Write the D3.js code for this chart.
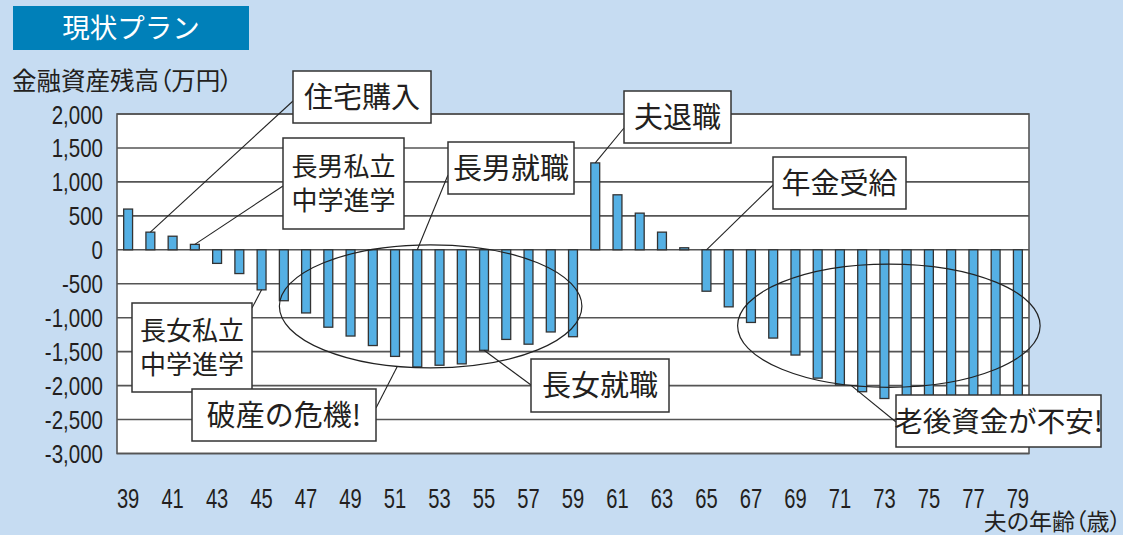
<!DOCTYPE html>
<html>
<head>
<meta charset="utf-8">
<script src="https://cdn.jsdelivr.net/npm/d3@7"></script>
<style>
  body { margin: 0; background: #c6dcf2; }
  .cjk { font-family: "Noto Sans CJK JP", "Noto Sans", sans-serif; font-feature-settings: "palt"; fill: #231f20; }
  .num { font-family: "Liberation Sans", Arial, sans-serif; fill: #231f20; }
</style>
</head>
<body>
<div id="theChart"></div>
<script>
// ages of the husband (x categories)
const ages = [39, 40, 41, 42, 43, 44, 45, 46, 47, 48, 49, 50, 51, 52, 53, 54, 55, 56, 57, 58, 59,
  60, 61, 62, 63, 64, 65, 66, 67, 68, 69, 70, 71, 72, 73, 74, 75, 76, 77, 78, 79]
// financial assets balance (10k yen)
const balance = [600, 260, 200, 80, -200, -350, -590, -750, -930, -1140, -1270, -1410, -1570, -1725, -1700, -1680, -1480, -1320, -1390, -1210, -1280,
  1280, 810, 540, 260, 30, -610, -840, -1070, -1300, -1550, -1890, -1990, -2090, -2190, -2260, -2320, -2380, -2440, -2500, -2560]
const yTicks = [2000, 1500, 1000, 500, 0, -500, -1000, -1500, -2000, -2500, -3000]
const yTickLabels = ["2,000", "1,500", "1,000", "500", "0", "-500", "-1,000", "-1,500", "-2,000", "-2,500", "-3,000"]
const xTicks = [39, 41, 43, 45, 47, 49, 51, 53, 55, 57, 59, 61, 63, 65, 67, 69, 71, 73, 75, 77, 79]

const w = 1123
const h = 535
const plot = { left: 117, right: 1029, top: 114, bottom: 453.5 }

const svg = d3.select("#theChart")
  .append("svg")
  .attr("width", w)
  .attr("height", h)

svg.append("rect").attr("width", w).attr("height", h).attr("fill", "#c6dcf2")

// title tab
svg.append("rect")
  .attr("x", 13).attr("y", 6).attr("width", 236).attr("height", 44)
  .attr("fill", "#0080b9")
svg.append("text")
  .attr("class", "cjk")
  .attr("x", 131).attr("y", 38)
  .attr("text-anchor", "middle")
  .attr("font-size", 27.5)
  .style("fill", "#fff")
  .style("font-feature-settings", "normal")
  .text("現状プラン")

svg.append("text")
  .attr("class", "cjk")
  .attr("x", 12).attr("y", 90)
  .attr("font-size", 24.5)
  .text("金融資産残高（万円）")

svg.append("text")
  .attr("class", "cjk")
  .attr("x", 1121).attr("y", 530)
  .attr("text-anchor", "end")
  .attr("font-size", 23)
  .text("夫の年齢（歳）")

const x = d3.scaleBand()
  .domain(ages)
  .range([plot.left, plot.right])
  .paddingInner(0.6)
  .paddingOuter(0.3)

const y = d3.scaleLinear()
  .domain([-3000, 2000])
  .range([plot.bottom, plot.top])

// continuous age scale for annotations
const xAge = d3.scaleLinear()
  .domain([ages[0], ages[ages.length - 1]])
  .range([x(ages[0]) + x.bandwidth() / 2, x(ages[ages.length - 1]) + x.bandwidth() / 2])

// plot background
svg.append("rect")
  .attr("x", plot.left).attr("y", plot.top)
  .attr("width", plot.right - plot.left).attr("height", plot.bottom - plot.top)
  .attr("fill", "#fff")

// grid
svg.append("g")
  .selectAll("line")
  .data(yTicks)
  .enter()
  .append("line")
  .attr("x1", plot.left).attr("x2", plot.right)
  .attr("y1", d => y(d)).attr("y2", d => y(d))
  .attr("stroke", "#555")
  .attr("stroke-width", 1.6)

svg.append("rect")
  .attr("x", plot.left).attr("y", plot.top)
  .attr("width", plot.right - plot.left).attr("height", plot.bottom - plot.top)
  .attr("fill", "none")
  .attr("stroke", "#555")
  .attr("stroke-width", 1.6)

// y axis labels
const yAxis = d3.axisLeft(y)
  .tickValues(yTicks)
  .tickSize(0)
  .tickPadding(0)
  .tickFormat((d, i) => yTickLabels[i])

const yg = svg.append("g")
  .attr("transform", "translate(103,0)")
  .call(yAxis)
yg.select(".domain").remove()
yg.selectAll("text")
  .attr("class", "num")
  .attr("font-size", 25)
  .attr("dy", "0.36em")
  .attr("transform", "scale(0.82,1)")

// x axis labels
const xAxis = d3.axisBottom(x)
  .tickValues(xTicks)
  .tickSize(0)
  .tickPadding(0)

const xg = svg.append("g")
  .attr("transform", "translate(0,488)")
  .call(xAxis)
xg.select(".domain").remove()
xg.selectAll("text")
  .attr("class", "num")
  .attr("font-size", 28)
  .attr("dy", "0.71em")
  .attr("x", 0)
  .attr("transform", "scale(0.72,1)")

// bars
svg.append("g")
  .selectAll("rect")
  .data(ages)
  .enter()
  .append("rect")
  .attr("x", d => x(d))
  .attr("width", x.bandwidth())
  .attr("y", (d, i) => y(Math.max(0, balance[i])))
  .attr("height", (d, i) => Math.abs(y(balance[i]) - y(0)))
  .attr("fill", "#55b0e4")
  .attr("stroke", "#333")
  .attr("stroke-width", 1.3)

// ellipses around the problem periods (age range, value range)
const ellipses = [
  { a0: 45.8, a1: 59.4, v0: -1740, v1: 74 },
  { a0: 66.4, a1: 80.0, v0: -2025, v1: -211 },
]
const ell = ellipses.map(e => ({
  cx: (xAge(e.a0) + xAge(e.a1)) / 2,
  cy: (y(e.v0) + y(e.v1)) / 2,
  rx: (xAge(e.a1) - xAge(e.a0)) / 2,
  ry: (y(e.v0) - y(e.v1)) / 2,
}))
svg.append("g")
  .selectAll("ellipse")
  .data(ell)
  .enter()
  .append("ellipse")
  .attr("cx", d => d.cx).attr("cy", d => d.cy)
  .attr("rx", d => d.rx).attr("ry", d => d.ry)
  .attr("fill", "none")
  .attr("stroke", "#222")
  .attr("stroke-width", 1.2)

function target(t) {
  if (t.ellipse !== undefined) {
    const e = ell[t.ellipse]
    const px = xAge(t.age)
    const dx = (px - e.cx) / e.rx
    return [px, e.cy + e.ry * Math.sqrt(1 - dx * dx)]
  }
  const i = ages.indexOf(t.age)
  const px = x(t.age) + x.bandwidth() / 2
  return [px, t.base ? y(0) : y(balance[i])]
}

// callouts
const notes = [
  { lines: ["住宅購入"], box: [293, 71, 138, 52], fs: 29, from: [293, 101], to: { age: 40 } },
  { lines: ["長男私立", "中学進学"], box: [283, 138, 121, 91], fs: 26, from: [283, 186], to: { age: 42 } },
  { lines: ["長女私立", "中学進学"], box: [132, 303, 120, 89], fs: 26, from: [252, 308], to: { age: 45 } },
  { lines: ["破産の危機!"], box: [192, 389, 184, 52], fs: 29, from: [376, 408], to: { ellipse: 0, age: 51.1 } },
  { lines: ["長男就職"], box: [448, 142, 126, 52], fs: 29, from: [448, 175], to: { age: 52, base: true } },
  { lines: ["長女就職"], box: [531, 359, 138, 53], fs: 29, from: [531, 385], to: { age: 55 } },
  { lines: ["夫退職"], box: [624, 91, 107, 52], fs: 29, from: [624, 128], to: { age: 60 } },
  { lines: ["年金受給"], box: [773, 157, 133, 52], fs: 29, from: [773, 185], to: { age: 65, base: true } },
  { lines: ["老後資金が不安!"], box: [896, 395, 205, 52], fs: 28.5, from: [896, 422], to: { ellipse: 1, age: 71.5 } },
]

svg.append("g")
  .selectAll("line")
  .data(notes)
  .enter()
  .append("line")
  .attr("x1", d => d.from[0]).attr("y1", d => d.from[1])
  .attr("x2", d => target(d.to)[0]).attr("y2", d => target(d.to)[1])
  .attr("stroke", "#222")
  .attr("stroke-width", 1.1)

const ng = svg.append("g")
  .selectAll("g")
  .data(notes)
  .enter()
  .append("g")

ng.append("rect")
  .attr("x", d => d.box[0]).attr("y", d => d.box[1])
  .attr("width", d => d.box[2]).attr("height", d => d.box[3])
  .attr("fill", "#fff")
  .attr("stroke", "#333")
  .attr("stroke-width", 1.5)

ng.each(function (d) {
  const g = d3.select(this)
  const cx = d.box[0] + d.box[2] / 2
  const cy = d.box[1] + d.box[3] / 2
  const lh = d.fs * 1.33
  d.lines.forEach((s, k) => {
    g.append("text")
      .attr("class", "cjk")
      .attr("x", cx)
      .attr("y", cy + (k - (d.lines.length - 1) / 2) * lh)
      .attr("dy", "0.37em")
      .attr("text-anchor", "middle")
      .attr("font-size", d.fs)
      .style("font-feature-settings", "normal")
      .text(s)
  })
})
</script>
</body>
</html>
